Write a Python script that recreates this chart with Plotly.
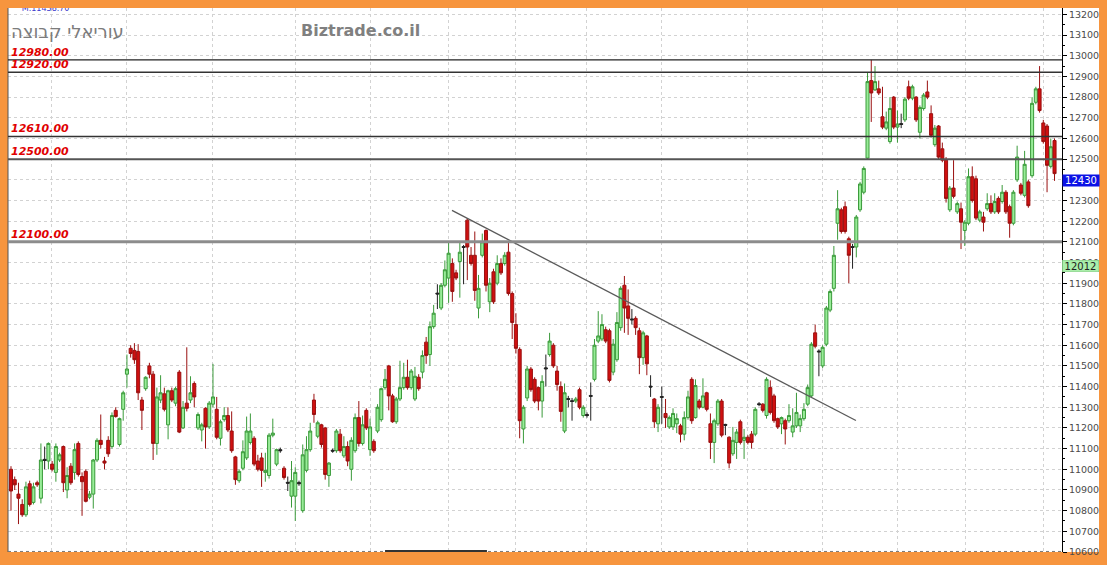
import plotly.graph_objects as go

# ---------------- data ----------------
OPEN = [11000, 10950, 10880, 10830, 10780, 10930, 10840, 10935, 10860, 11048,
        11040, 11025, 10985, 11045, 11110, 10900, 11015, 10985, 11125, 10965,
        10990, 10865, 10880, 11045, 11140, 11040, 11140, 11110, 11285, 11120,
        11290, 11460, 11585, 11575, 11570, 11335, 11390, 11500, 11460, 11125,
        11335, 11365, 11215, 11380, 11320, 11470, 11200, 11320, 11335, 11415,
        11200, 11190, 11295, 11205, 11315, 11290, 11150, 11240, 11260, 11185,
        11060, 10945, 11005, 11055, 11130, 11150, 11040, 11055, 10985, 10970,
        11165, 11025, 11095, 11005, 10937, 10870, 10870, 10930, 10800, 10995,
        11095, 11335, 11160, 11215, 11200, 10970, 11092, 11090, 11170, 11065,
        11110, 11000, 11090, 11250, 11125, 11285, 11095, 11135, 11185, 11240,
        11395, 11500, 11355, 11230, 11340, 11395, 11445, 11395, 11340, 11445,
        11470, 11615, 11555, 11690, 11852, 11780, 11890, 11925, 11995, 11950,
        12005, 12077, 12205, 12035, 12035, 11780, 12035, 12155, 11810, 11955,
        11900, 11995, 11995, 12050, 11850, 11700, 11580, 11195, 11345, 11485,
        11435, 11395, 11330, 11485, 11555, 11600, 11475, 11400, 11185, 11342,
        11332, 11330, 11385, 11260, 11265, 11357, 11435, 11620, 11630, 11675,
        11670, 11470, 11530, 11685, 11890, 11790, 11727, 11730, 11670, 11540,
        11645, 11402, 11340, 11220, 11352, 11270, 11205, 11205, 11220, 11210,
        11170, 11250, 11435, 11250, 11330, 11300, 11370, 11220, 11130, 11220,
        11330, 11217, 11155, 11075, 11130, 11230, 11140, 11155, 11170, 11170,
        11317, 11315, 11260, 11395, 11355, 11245, 11220, 11235, 11235, 11180,
        11210, 11210, 11245, 11315, 11355, 11660, 11572, 11500, 11605, 11770,
        11875, 12190, 12255, 12270, 12115, 12077, 12075, 12255, 12340, 12505,
        12880, 12835, 12840, 12705, 12650, 12585, 12800, 12655, 12672, 12690,
        12850, 12795, 12800, 12630, 12745, 12825, 12720, 12570, 12660, 12550,
        12495, 12255, 12360, 12245, 12260, 12155, 12190, 12415, 12405, 12205,
        12220, 12260, 12285, 12245, 12310, 12295, 12340, 12270, 12190, 12400,
        12375, 12325, 12390, 12420, 12775, 12840, 12675, 12660, 12465, 12590]

HIGH = [11015, 10965, 10935, 10855, 10940, 10945, 10935, 10945, 11125, 11110,
        11130, 11040, 11125, 11080, 11115, 11010, 11030, 11125, 11135, 10985,
        11000, 10895, 11050, 11150, 11265, 11060, 11160, 11275, 11300, 11250,
        11380, 11555, 11600, 11610, 11605, 11350, 11450, 11515, 11475, 11395,
        11455, 11395, 11385, 11395, 11400, 11480, 11330, 11590, 11450, 11425,
        11275, 11225, 11300, 11330, 11510, 11350, 11240, 11300, 11300, 11280,
        11065, 11000, 11140, 11255, 11270, 11160, 11070, 11080, 11080, 11175,
        11245, 11100, 11105, 11015, 10965, 11040, 11010, 10945, 11120, 11160,
        11225, 11365, 11235, 11220, 11205, 11035, 11100, 11195, 11195, 11160,
        11135, 11155, 11270, 11330, 11260, 11295, 11245, 11145, 11315, 11395,
        11485, 11505, 11365, 11350, 11525, 11515, 11530, 11485, 11495, 11460,
        11575, 11640, 11715, 11795, 11895, 11900, 12010, 12100, 12020, 11965,
        12100, 12085, 12215, 12075, 12150, 11940, 12140, 12160, 11925, 11970,
        12035, 12020, 12050, 12100, 11860, 11755, 11590, 11310, 11500, 11495,
        11445, 11400, 11455, 11555, 11660, 11610, 11500, 11425, 11415, 11355,
        11345, 11350, 11395, 11310, 11275, 11420, 11630, 11765, 11750, 11690,
        11680, 11630, 11760, 11885, 11935, 11870, 11775, 11740, 11685, 11670,
        11650, 11455, 11345, 11315, 11400, 11340, 11260, 11295, 11270, 11220,
        11280, 11380, 11445, 11435, 11340, 11440, 11375, 11270, 11245, 11340,
        11340, 11220, 11160, 11205, 11195, 11240, 11195, 11165, 11185, 11300,
        11325, 11320, 11445, 11430, 11365, 11250, 11255, 11245, 11315, 11295,
        11370, 11265, 11320, 11410, 11615, 11700, 11580, 11600, 11790, 11870,
        12080, 12350, 12265, 12295, 12125, 12090, 12230, 12390, 12465, 12920,
        12980, 12950, 12880, 12850, 12730, 12800, 12805, 12735, 12720, 12800,
        12880, 12860, 12805, 12760, 12820, 12880, 12760, 12665, 12665, 12580,
        12510, 12370, 12495, 12295, 12290, 12205, 12455, 12465, 12420, 12255,
        12245, 12335, 12325, 12335, 12320, 12375, 12350, 12280, 12350, 12565,
        12385, 12540, 12400, 12800, 12850, 12950, 12690, 12670, 12600, 12600]

LOW = [10800, 10900, 10735, 10770, 10770, 10820, 10830, 10915, 10835, 11000,
       11000, 10990, 10940, 11035, 10890, 10860, 10925, 10950, 10965, 10775,
       10840, 10855, 10810, 11035, 11100, 11000, 11060, 11100, 11250, 11110,
       11235, 11395, 11540, 11510, 11335, 11190, 11380, 11440, 11045, 11070,
       11320, 11280, 11145, 11325, 11305, 11175, 11195, 11280, 11320, 11300,
       11190, 11135, 11100, 11195, 11300, 11145, 11115, 11230, 11180, 11080,
       10925, 10935, 10995, 11045, 11120, 11015, 10990, 10915, 10940, 10955,
       11155, 11015, 11080, 10950, 10895, 10815, 10750, 10920, 10790, 10985,
       11085, 11225, 11150, 11105, 10950, 10915, 11080, 11080, 11080, 11055,
       11015, 10945, 11080, 11110, 11115, 11190, 11065, 11080, 11175, 11230,
       11385, 11285, 11225, 11220, 11330, 11385, 11385, 11385, 11330, 11380,
       11440, 11510, 11500, 11680, 11775, 11770, 11880, 11805, 11810, 11915,
       11830, 11895, 11915, 11985, 11815, 11730, 12025, 11860, 11760, 11800,
       11890, 11940, 11985, 11840, 11630, 11560, 11150, 11125, 11330, 11375,
       11320, 11285, 11250, 11400, 11545, 11490, 11380, 11230, 11175, 11300,
       11235, 11320, 11290, 11250, 11250, 11235, 11425, 11610, 11620, 11610,
       11420, 11455, 11520, 11670, 11660, 11650, 11700, 11650, 11460, 11505,
       11455, 11350, 11200, 11180, 11220, 11200, 11195, 11190, 11175, 11130,
       11140, 11240, 11220, 11245, 11290, 11295, 11280, 11050, 11030, 11210,
       11155, 11165, 11005, 11065, 11050, 11120, 11050, 11120, 11100, 11160,
       11305, 11275, 11245, 11265, 11225, 11195, 11170, 11120, 11225, 11155,
       11200, 11180, 11235, 11305, 11345, 11585, 11450, 11490, 11595, 11760,
       11860, 12110, 12140, 12140, 11900, 11970, 12025, 12245, 12330, 12500,
       12680, 12830, 12810, 12645, 12640, 12575, 12645, 12580, 12650, 12680,
       12785, 12785, 12680, 12600, 12735, 12790, 12605, 12560, 12500, 12485,
       12290, 12245, 12310, 12235, 12065, 12080, 12180, 12290, 12205, 12195,
       12150, 12250, 12235, 12235, 12235, 12285, 12235, 12120, 12180, 12390,
       12325, 12315, 12265, 12410, 12765, 12725, 12575, 12340, 12455, 12395]

CLOSE = [10895, 10925, 10860, 10780, 10915, 10830, 10915, 10925, 11045, 11043,
         11125, 11000, 11110, 11070, 10935, 10970, 10935, 11095, 10975, 10940,
         10845, 10880, 11045, 11140, 11120, 11030, 11075, 11260, 11255, 11245,
         11370, 11485, 11560, 11530, 11370, 11285, 11445, 11460, 11125, 11350,
         11370, 11290, 11380, 11335, 11390, 11180, 11300, 11295, 11370, 11350,
         11265, 11215, 11205, 11320, 11350, 11155, 11230, 11260, 11190, 11090,
         10950, 10990, 11085, 11185, 11185, 11025, 11000, 10995, 10995, 11165,
         11175, 11095, 11090, 10960, 10933, 10945, 10985, 10935, 11070, 11095,
         11185, 11265, 11225, 11120, 10975, 11030, 11088, 11185, 11090, 11110,
         11040, 11140, 11250, 11125, 11215, 11200, 11205, 11090, 11300, 11390,
         11435, 11355, 11230, 11340, 11395, 11445, 11395, 11475, 11450, 11390,
         11550, 11550, 11690, 11755, 11848, 11890, 11965, 12045, 11860, 11925,
         12050, 12073, 12075, 11995, 11865, 11875, 12100, 11890, 11900, 11810,
         11995, 11950, 12035, 11850, 11710, 11585, 11235, 11300, 11485, 11385,
         11330, 11330, 11425, 11490, 11620, 11500, 11410, 11280, 11370, 11338,
         11328, 11340, 11300, 11300, 11260, 11353, 11600, 11645, 11700, 11620,
         11430, 11605, 11710, 11875, 11780, 11730, 11723, 11685, 11540, 11660,
         11510, 11398, 11230, 11300, 11348, 11250, 11250, 11270, 11245, 11170,
         11250, 11350, 11235, 11405, 11300, 11355, 11290, 11130, 11235, 11330,
         11165, 11213, 11030, 11140, 11180, 11130, 11155, 11130, 11130, 11290,
         11313, 11285, 11435, 11275, 11235, 11205, 11250, 11195, 11260, 11210,
         11275, 11245, 11290, 11395, 11605, 11595, 11568, 11590, 11780, 11860,
         12035, 12260, 12150, 12150, 12035, 12073, 12220, 12380, 12455, 12875,
         12820, 12875, 12820, 12655, 12680, 12745, 12655, 12670, 12668, 12790,
         12795, 12850, 12690, 12750, 12810, 12800, 12615, 12650, 12510, 12495,
         12310, 12360, 12320, 12285, 12195, 12195, 12415, 12300, 12215, 12245,
         12195, 12285, 12245, 12295, 12245, 12340, 12245, 12190, 12340, 12510,
         12335, 12475, 12275, 12770, 12840, 12735, 12585, 12470, 12560, 12430]

LEVELS = [12980, 12920, 12610, 12500, 12100]
TREND_X = [117.9, 225.9]          # bar positions of the drawn trend line ends
TREND_Y = [12252, 11236]
GRID_X = [10.9, 30.9, 53.8, 76.1, 96.0, 117.1, 134.9, 153.9, 174.0, 196.9,
          217.0, 237.0, 255.3, 276.0]
Y_TICKS = list(range(10600, 13201, 100))
LAST_PRICE = 12430
MARK_PRICE = 12012
TITLE_HE = "עוריאלי קבוצה"
SITE = "Biztrade.co.il"
TOP_INFO = "M.11438.70"

# ---------------- styles ----------------
LEVEL_COLORS = ["#222222", "#333333", "#333333", "#555555", "#8c8c8c"]
LEVEL_WIDTHS = [1.2, 1.5, 1.5, 2.0, 3.0]
ORANGE = "#F7953E"
FONT = "DejaVu Sans"

X = list(range(len(OPEN)))

groups = {"inc": [], "dec": [], "doji": []}
for i in X:
    d = CLOSE[i] - OPEN[i]
    if abs(d) <= 5:
        groups["doji"].append(i)
    elif d > 0:
        groups["inc"].append(i)
    else:
        groups["dec"].append(i)

styles = {
    "inc": dict(fill="#98ec98", line="#3a9a3a"),
    "dec": dict(fill="#d01010", line="#9a1010"),
    "doji": dict(fill="#222222", line="#222222"),
}

fig = go.Figure()
for key, idx in groups.items():
    st = styles[key]
    fig.add_trace(go.Candlestick(
        x=[X[i] for i in idx],
        open=[OPEN[i] for i in idx],
        high=[HIGH[i] for i in idx],
        low=[LOW[i] for i in idx],
        close=[CLOSE[i] for i in idx],
        increasing=dict(fillcolor=st["fill"], line=dict(color=st["line"], width=1)),
        decreasing=dict(fillcolor=st["fill"], line=dict(color=st["line"], width=1)),
        whiskerwidth=0,
        showlegend=False,
        hoverinfo="skip",
    ))

# trend line
fig.add_trace(go.Scatter(x=TREND_X, y=TREND_Y, mode="lines",
                         line=dict(color="#5a5a5a", width=1.3),
                         showlegend=False, hoverinfo="skip"))

# clipped info text at the very top
fig.add_trace(go.Scatter(x=[2.9], y=[13228], mode="text", text=[TOP_INFO],
                         textposition="middle right",
                         textfont=dict(family=FONT, size=8, color="#3a3acc"),
                         cliponaxis=True, showlegend=False, hoverinfo="skip"))

XDOM = 0.9661
shapes = [
    dict(type="rect", xref="paper", yref="paper", x0=0, x1=1, y0=0, y1=1,
         fillcolor="white", line=dict(width=0), layer="below"),
    dict(type="line", xref="paper", yref="paper", x0=0, x1=0, y0=0, y1=1,
         line=dict(color="#555555", width=1)),
    dict(type="line", xref="paper", yref="paper", x0=0, x1=XDOM, y0=0.001, y1=0.001,
         line=dict(color="#777777", width=1, dash="dot")),
    dict(type="line", xref="paper", yref="paper", x0=0.3456, x1=0.439, y0=0.002, y1=0.002,
         line=dict(color="#333333", width=2)),
]
annotations = []
for lv, c, w in zip(LEVELS, LEVEL_COLORS, LEVEL_WIDTHS):
    shapes.append(dict(type="line", xref="paper", yref="y", x0=0, x1=XDOM, y0=lv, y1=lv,
                       line=dict(color=c, width=w), layer="above"))
    annotations.append(dict(xref="paper", yref="y", x=0, y=lv, xanchor="left", yanchor="bottom",
                            xshift=1, yshift=-1, showarrow=False, text=f"{lv:.2f}",
                            font=dict(family=FONT, size=11, color="#e00000",
                                      style="italic", weight="bold")))

annotations += [
    dict(xref="paper", yref="paper", x=0, y=0.957, xanchor="left", yanchor="middle",
         xshift=1, showarrow=False, text=TITLE_HE,
         font=dict(family=FONT, size=18, color="#7c7c7c")),
    dict(xref="paper", yref="paper", x=0.2667, y=0.958, xanchor="left", yanchor="middle",
         showarrow=False, text=SITE,
         font=dict(family=FONT, size=16, color="#808080", weight="bold")),
    dict(xref="paper", yref="y", x=XDOM, y=LAST_PRICE, xanchor="left", yanchor="top",
         showarrow=False, text=str(LAST_PRICE), bgcolor="#0c12e6", borderpad=0, width=36,
         align="center", font=dict(family=FONT, size=10, color="white")),
    dict(xref="paper", yref="y", x=XDOM, y=MARK_PRICE, xanchor="left", yanchor="top",
         showarrow=False, text=str(MARK_PRICE), bgcolor="#aaeeaa", borderpad=0, width=36,
         bordercolor="#77c777", borderwidth=0.5,
         align="center", font=dict(family=FONT, size=10, color="#222222")),
]

fig.update_layout(
    width=1107, height=565,
    margin=dict(l=8, r=8, t=8, b=9),
    paper_bgcolor=ORANGE,
    plot_bgcolor="white",
    showlegend=False,
    boxgap=0.1, boxgroupgap=0.1,
    shapes=shapes,
    annotations=annotations,
    xaxis=dict(domain=[0, XDOM], range=[-0.8, 281.0], rangeslider=dict(visible=False),
               tickvals=GRID_X, showticklabels=False, ticks="",
               showgrid=True, gridcolor="#d2d2d2", griddash="dot", gridwidth=1,
               zeroline=False, showline=False, fixedrange=True),
    yaxis=dict(side="right", range=[10600, 13231], tickvals=Y_TICKS,
               ticktext=[str(v) for v in Y_TICKS],
               tickfont=dict(family=FONT, size=9.5, color="#4a4a4a"),
               ticks="outside", ticklen=4, tickcolor="#000000",
               minor=dict(dtick=50, ticks="outside", ticklen=2, tickcolor="#000000", showgrid=False),
               showgrid=True, gridcolor="#d2d2d2", griddash="dot", gridwidth=1,
               showline=True, linecolor="#000000", linewidth=1,
               zeroline=False, fixedrange=True),
)

fig.write_html("out.html", config={"displayModeBar": False},
               post_script="document.body.style.margin='0';document.body.style.overflow='hidden';")
